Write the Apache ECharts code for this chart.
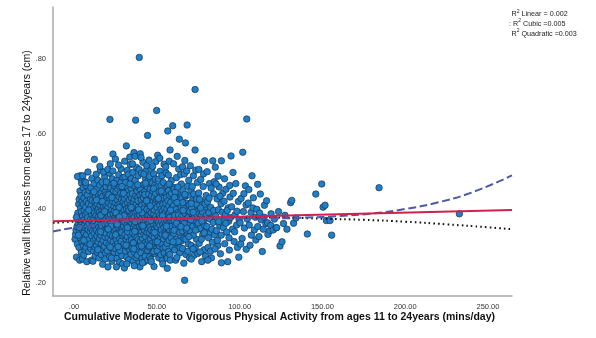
<!DOCTYPE html>
<html>
<head>
<meta charset="utf-8">
<script src="https://cdn.jsdelivr.net/npm/echarts@6/dist/echarts.min.js"></script>
<style>
  html, body { margin: 0; padding: 0; background: #fff; }
  #chart { width: 596px; height: 338px; }
</style>
</head>
<body>
<div id="chart"></div>
<script>
// Cumulative MVPA (mins/day, ages 11-24) vs relative wall thickness (cm, ages 17-24)
const participants = [
  [0.6,0.318],[0.9,0.331],[1.2,0.342],[1.5,0.270],[1.8,0.352],[2.0,0.305],[2.3,0.388],[2.5,0.361],[2.8,0.412],[3.0,0.296],[3.1,0.425],[3.3,0.372],[3.5,0.338],[3.6,0.447],[3.8,0.488],[3.9,0.321],[4.0,0.401],[4.1,0.356],[4.3,0.479],[4.4,0.283],[4.5,0.392],[4.6,0.468],[4.7,0.347],[4.8,0.418],[4.9,0.310],[2.1,0.486],[1.4,0.377],[3.4,0.262],[4.2,0.435],[2.7,0.329],
  [5.1,0.265],[5.2,0.380],[5.3,0.488],[5.4,0.342],[5.5,0.456],[5.6,0.301],[5.7,0.411],[5.8,0.369],[5.9,0.276],[6.0,0.428],[6.1,0.335],[6.2,0.395],[6.3,0.312],[6.4,0.472],[6.5,0.357],[6.6,0.289],[6.7,0.443],[6.8,0.323],[6.9,0.384],[7.0,0.404],[7.1,0.348],[7.2,0.296],[7.3,0.462],[7.4,0.366],[7.5,0.420],[7.6,0.331],[7.7,0.258],[7.8,0.389],[7.9,0.352],[8.0,0.437],[8.2,0.307],[8.3,0.376],[8.4,0.498],[8.6,0.343],[8.7,0.414],[8.8,0.285],[9.0,0.361],[9.1,0.449],[9.3,0.318],[9.5,0.397],[9.7,0.338],[9.9,0.425],
  [10.0,0.372],[10.1,0.293],[10.2,0.456],[10.3,0.347],[10.4,0.408],[10.5,0.262],[10.6,0.385],[10.7,0.327],[10.8,0.481],[10.9,0.363],[11.0,0.422],[11.1,0.305],[11.2,0.394],[11.3,0.340],[11.4,0.259],[11.5,0.443],[11.6,0.357],[11.7,0.314],[11.8,0.401],[11.9,0.286],[12.0,0.376],[12.1,0.467],[12.2,0.334],[12.3,0.532],[12.4,0.389],[12.5,0.298],[12.6,0.418],[12.7,0.352],[12.8,0.273],[12.9,0.431],[13.0,0.366],[13.1,0.320],[13.2,0.407],[13.3,0.381],[13.4,0.492],[13.5,0.343],[13.6,0.301],[13.7,0.452],[13.8,0.370],[13.9,0.327],[14.0,0.413],[14.1,0.283],[14.2,0.396],[14.3,0.359],[14.4,0.476],[14.5,0.311],[14.6,0.438],[14.7,0.378],[14.8,0.336],[14.9,0.400],
  [15.0,0.350],[15.1,0.268],[15.2,0.427],[15.3,0.391],[15.4,0.319],[15.5,0.463],[15.6,0.372],[15.7,0.295],[15.8,0.409],[15.9,0.345],[16.0,0.503],[16.1,0.383],[16.2,0.329],[16.3,0.441],[16.4,0.360],[16.5,0.277],[16.6,0.418],[16.7,0.306],[16.8,0.395],[16.9,0.352],[17.0,0.471],[17.1,0.338],[17.2,0.387],[17.3,0.251],[17.4,0.433],[17.5,0.367],[17.6,0.315],[17.7,0.404],[17.8,0.290],[17.9,0.452],[18.0,0.376],[18.1,0.341],[18.2,0.419],[18.3,0.299],[18.4,0.362],[18.5,0.486],[18.6,0.398],[18.7,0.324],[18.8,0.444],[18.9,0.355],[19.0,0.281],[19.1,0.412],[19.2,0.371],[19.3,0.334],[19.4,0.459],[19.5,0.389],[19.6,0.308],[19.7,0.426],[19.8,0.348],[19.9,0.398],[15.6,0.513],[17.8,0.498],[18.9,0.265],[16.2,0.382],[19.3,0.437],
  [20.0,0.366],[20.1,0.287],[20.2,0.434],[20.3,0.351],[20.4,0.402],[20.5,0.244],[20.6,0.379],[20.7,0.322],[20.8,0.468],[20.9,0.357],[21.0,0.415],[21.1,0.303],[21.2,0.390],[21.3,0.340],[21.4,0.495],[21.5,0.373],[21.6,0.271],[21.7,0.639],[21.8,0.427],[21.9,0.331],[22.0,0.384],[22.1,0.455],[22.2,0.316],[22.3,0.362],[22.4,0.410],[22.5,0.294],[22.6,0.441],[22.7,0.347],[22.8,0.396],[22.9,0.259],[23.0,0.372],[23.1,0.480],[23.2,0.327],[23.3,0.420],[23.4,0.355],[23.5,0.546],[23.6,0.387],[23.7,0.311],[23.8,0.448],[23.9,0.368],[24.0,0.279],[24.1,0.405],[24.2,0.342],[24.3,0.462],[24.4,0.393],[24.5,0.300],[24.6,0.430],[24.7,0.359],[24.8,0.325],[24.9,0.416],[20.4,0.505],[21.9,0.520],[22.7,0.268],[23.4,0.501],[24.3,0.283],[20.9,0.437],[22.4,0.353],[24.8,0.377],
  [25.0,0.533],[25.1,0.370],[25.2,0.292],[25.3,0.445],[25.4,0.344],[25.5,0.401],[25.6,0.318],[25.7,0.386],[25.8,0.476],[25.9,0.356],[26.0,0.267],[26.1,0.423],[26.2,0.335],[26.3,0.392],[26.4,0.306],[26.5,0.452],[26.6,0.364],[26.7,0.411],[26.8,0.282],[26.9,0.379],[27.0,0.491],[27.1,0.348],[27.2,0.432],[27.3,0.321],[27.4,0.397],[27.5,0.256],[27.6,0.365],[27.7,0.458],[27.8,0.337],[27.9,0.414],[28.0,0.381],[28.1,0.297],[28.2,0.441],[28.3,0.353],[28.4,0.507],[28.5,0.394],[28.6,0.313],[28.7,0.425],[28.8,0.370],[28.9,0.274],[29.0,0.408],[29.1,0.343],[29.2,0.466],[29.3,0.387],[29.4,0.328],[29.5,0.437],[29.6,0.359],[29.7,0.299],[29.8,0.419],[29.9,0.374],[25.6,0.244],[26.9,0.517],[27.7,0.288],[28.3,0.470],[29.4,0.252],[26.1,0.358],[27.3,0.403],[28.8,0.336],[29.6,0.483],[25.3,0.389],
  [30.0,0.352],[30.1,0.449],[30.2,0.305],[30.3,0.396],[30.4,0.241],[30.5,0.373],[30.6,0.427],[30.7,0.330],[30.8,0.485],[30.9,0.363],[31.0,0.411],[31.1,0.286],[31.2,0.384],[31.3,0.345],[31.4,0.459],[31.5,0.318],[31.6,0.568],[31.7,0.399],[31.8,0.270],[31.9,0.433],[32.0,0.357],[32.1,0.502],[32.2,0.325],[32.3,0.388],[32.4,0.416],[32.5,0.296],[32.6,0.369],[32.7,0.446],[32.8,0.340],[32.9,0.402],[33.0,0.263],[33.1,0.378],[33.2,0.472],[33.3,0.312],[33.4,0.423],[33.5,0.354],[33.6,0.392],[33.7,0.289],[33.8,0.437],[33.9,0.366],[34.0,0.518],[34.1,0.331],[34.2,0.409],[34.3,0.349],[34.4,0.278],[34.5,0.454],[34.6,0.383],[34.7,0.316],[34.8,0.428],[34.9,0.361],[30.6,0.527],[31.9,0.252],[32.8,0.492],[33.7,0.538],[34.3,0.300],[31.2,0.470],[32.4,0.338],[33.3,0.395],[34.6,0.480],[30.2,0.381],
  [35.0,0.398],[35.1,0.294],[35.2,0.440],[35.3,0.372],[35.4,0.335],[35.5,0.497],[35.6,0.386],[35.7,0.259],[35.8,0.418],[35.9,0.350],[36.0,0.462],[36.1,0.310],[36.2,0.550],[36.3,0.377],[36.4,0.425],[36.5,0.283],[36.6,0.358],[36.7,0.404],[36.8,0.329],[36.9,0.476],[37.0,0.390],[37.1,0.301],[37.2,0.637],[37.3,0.434],[37.4,0.346],[37.5,0.269],[37.6,0.412],[37.7,0.368],[37.8,0.510],[37.9,0.322],[38.0,0.393],[38.1,0.447],[38.2,0.339],[38.3,0.291],[38.4,0.379],[38.5,0.430],[38.6,0.360],[38.7,0.488],[38.8,0.317],[38.9,0.405],[39.0,0.253],[39.1,0.374],[39.2,0.456],[39.3,0.341],[39.4,0.805],[39.5,0.418],[39.6,0.299],[39.7,0.383],[39.8,0.244],[39.9,0.437],[35.3,0.520],[36.4,0.247],[37.0,0.540],[38.2,0.275],[39.3,0.505],[35.8,0.308],[36.9,0.365],[38.6,0.421],[39.7,0.352],[40.0,0.547],
  [40.1,0.366],[40.2,0.313],[40.3,0.451],[40.4,0.397],[40.5,0.282],[40.6,0.423],[40.7,0.355],[40.8,0.495],[40.9,0.338],[41.0,0.409],[41.1,0.266],[41.2,0.376],[41.3,0.441],[41.4,0.320],[41.5,0.387],[41.6,0.524],[41.7,0.349],[41.8,0.296],[41.9,0.428],[42.0,0.368],[42.1,0.465],[42.2,0.331],[42.3,0.401],[42.4,0.257],[42.5,0.379],[42.6,0.445],[42.7,0.342],[42.8,0.308],[42.9,0.414],[43.0,0.363],[43.1,0.481],[43.2,0.325],[43.3,0.392],[43.4,0.277],[43.5,0.433],[43.6,0.356],[43.7,0.502],[43.8,0.303],[43.9,0.384],[44.0,0.420],[44.1,0.336],[44.2,0.459],[44.3,0.371],[44.4,0.596],[44.5,0.288],[44.6,0.406],[44.7,0.347],[44.8,0.474],[44.9,0.315],[40.5,0.537],[41.4,0.255],[42.2,0.492],[43.0,0.272],[43.9,0.515],[44.6,0.262],[41.0,0.389],[42.8,0.438],[44.1,0.398],
  [45.0,0.381],[45.1,0.439],[45.2,0.297],[45.3,0.360],[45.4,0.412],[45.5,0.335],[45.6,0.486],[45.7,0.271],[45.8,0.395],[45.9,0.351],[46.0,0.452],[46.1,0.318],[46.2,0.377],[46.3,0.426],[46.4,0.264],[46.5,0.343],[46.6,0.505],[46.7,0.389],[46.8,0.306],[46.9,0.434],[47.0,0.365],[47.1,0.469],[47.2,0.328],[47.3,0.401],[47.4,0.282],[47.5,0.373],[47.6,0.447],[47.7,0.339],[47.8,0.418],[47.9,0.295],[48.0,0.358],[48.1,0.493],[48.2,0.385],[48.3,0.245],[48.4,0.430],[48.5,0.323],[48.6,0.397],[48.7,0.462],[48.8,0.346],[48.9,0.279],[49.0,0.414],[49.1,0.369],[49.2,0.311],[49.3,0.441],[49.4,0.526],[49.5,0.380],[49.6,0.292],[49.7,0.423],[49.8,0.354],[49.9,0.663],[45.3,0.530],[46.7,0.258],[47.5,0.513],[48.2,0.285],[49.1,0.479],[46.0,0.407],
  [50.0,0.331],[50.1,0.403],[50.2,0.458],[50.3,0.287],[50.4,0.372],[50.5,0.543],[50.6,0.349],[50.7,0.425],[50.8,0.310],[50.9,0.390],[51.0,0.479],[51.1,0.363],[51.2,0.268],[51.3,0.416],[51.4,0.337],[51.5,0.445],[51.6,0.381],[51.7,0.300],[51.8,0.409],[51.9,0.356],[52.0,0.500],[52.1,0.321],[52.2,0.434],[52.3,0.375],[52.4,0.276],[52.5,0.398],[52.6,0.462],[52.7,0.343],[52.8,0.305],[52.9,0.420],[53.0,0.366],[53.1,0.488],[53.2,0.330],[53.3,0.393],[53.4,0.261],[53.5,0.437],[53.6,0.357],[53.7,0.411],[53.8,0.294],[53.9,0.470],[54.0,0.384],[54.1,0.319],[54.2,0.428],[54.3,0.350],[54.4,0.519],[54.5,0.281],[54.6,0.401],[54.7,0.367],[54.8,0.451],[54.9,0.334],[51.8,0.535],[53.6,0.252],
  [55.0,0.389],[55.1,0.297],[55.2,0.443],[55.3,0.358],[55.4,0.414],[55.5,0.325],[55.6,0.496],[55.7,0.372],[55.8,0.270],[55.9,0.430],[56.0,0.345],[56.1,0.399],[56.2,0.307],[56.3,0.267],[56.4,0.461],[56.5,0.378],[56.6,0.608],[56.7,0.421],[56.8,0.336],[56.9,0.383],[57.0,0.285],[57.1,0.448],[57.2,0.362],[57.3,0.407],[57.4,0.315],[57.5,0.527],[57.6,0.391],[57.7,0.344],[57.8,0.436],[57.9,0.277],[58.0,0.557],[58.2,0.370],[58.4,0.417],[58.6,0.322],[58.8,0.475],[59.0,0.353],[59.2,0.402],[59.4,0.298],[59.6,0.622],[59.8,0.386],[55.4,0.512],[56.3,0.240],[57.0,0.490],[58.1,0.262],[58.9,0.440],[59.5,0.338],[59.9,0.457],[57.7,0.376],
  [60.0,0.408],[60.2,0.334],[60.4,0.452],[60.6,0.366],[60.8,0.289],[61.0,0.422],[61.2,0.355],[61.4,0.262],[61.6,0.398],[61.8,0.483],[62.0,0.318],[62.2,0.377],[62.4,0.440],[62.6,0.302],[62.8,0.389],[63.0,0.347],[63.2,0.506],[63.4,0.416],[63.6,0.586],[63.8,0.281],[64.0,0.372],[64.2,0.431],[64.4,0.327],[64.6,0.395],[64.8,0.466],[60.1,0.520],[60.9,0.382],[61.5,0.309],[62.3,0.540],[62.9,0.425],[63.5,0.359],[64.1,0.296],[64.7,0.404],[61.1,0.444],[62.1,0.269],[63.1,0.383],[64.3,0.491],[60.5,0.342],[61.9,0.361],[63.9,0.337],[62.7,0.458],[64.9,0.314],
  [65.0,0.379],[65.2,0.427],[65.4,0.340],[65.6,0.293],[65.8,0.448],[66.0,0.365],[66.2,0.402],[66.4,0.320],[66.6,0.493],[66.8,0.208],[67.0,0.387],[67.2,0.351],[67.3,0.576],[67.4,0.434],[67.6,0.277],[67.8,0.371],[68.0,0.415],[68.3,0.624],[68.4,0.332],[68.6,0.460],[68.8,0.394],[69.0,0.306],[69.2,0.356],[69.4,0.437],[69.6,0.381],[69.8,0.268],[65.5,0.512],[66.3,0.254],[66.9,0.529],[67.5,0.318],[68.1,0.501],[68.7,0.286],[69.3,0.476],[65.9,0.395],[67.9,0.343],[69.7,0.410],[66.5,0.360],[68.5,0.375],
  [70.0,0.393],[70.3,0.338],[70.6,0.449],[70.9,0.301],[71.2,0.372],[71.5,0.421],[71.8,0.353],[72.1,0.488],[72.4,0.275],[72.7,0.406],[73.1,0.719],[73.1,0.557],[73.3,0.366],[73.6,0.432],[73.9,0.318],[74.2,0.385],[74.5,0.470],[74.8,0.345],[70.2,0.515],[70.8,0.265],[71.4,0.459],[72.0,0.329],[72.6,0.378],[73.2,0.296],[73.8,0.412],[74.4,0.356],[71.1,0.401],[72.3,0.439],[73.5,0.503],[74.7,0.280],[70.5,0.370],[71.9,0.292],[74.0,0.426],
  [75.0,0.361],[75.3,0.442],[75.6,0.307],[75.9,0.398],[76.2,0.347],[76.5,0.478],[76.8,0.380],[77.1,0.258],[77.4,0.419],[77.7,0.330],[78.0,0.459],[78.3,0.371],[78.6,0.290],[78.9,0.528],[79.2,0.404],[79.5,0.341],[79.8,0.435],[75.4,0.505],[76.1,0.284],[76.9,0.318],[77.6,0.391],[78.2,0.493],[78.8,0.356],[79.4,0.273],[79.9,0.383],[75.8,0.425],[77.2,0.367],[79.0,0.412],
  [80.2,0.352],[80.6,0.418],[81.0,0.296],[81.4,0.389],[81.8,0.467],[82.2,0.334],[82.6,0.403],[83.0,0.268],[83.4,0.376],[83.8,0.528],[84.2,0.440],[84.7,0.472],[80.4,0.499],[81.2,0.322],[82.0,0.372],[82.8,0.455],[83.6,0.310],[84.4,0.395],[80.8,0.262],[81.6,0.428],[82.4,0.286],[83.2,0.345],[84.0,0.363],[84.9,0.330],
  [85.3,0.511],[85.6,0.380],[86.0,0.341],[86.4,0.426],[86.8,0.301],[87.2,0.397],[87.6,0.458],[88.0,0.355],[88.4,0.279],[88.8,0.413],[89.0,0.528],[89.0,0.255],[89.4,0.370],[89.8,0.441],[85.8,0.466],[86.6,0.315],[87.4,0.365],[88.2,0.433],[88.9,0.329],[85.2,0.292],[87.0,0.487],[89.6,0.390],
  [90.2,0.349],[90.6,0.420],[91.0,0.306],[91.4,0.384],[91.8,0.452],[92.2,0.337],[92.8,0.258],[93.0,0.402],[93.4,0.366],[93.8,0.289],[94.2,0.431],[94.8,0.541],[90.9,0.480],[91.7,0.361],[92.6,0.395],[93.6,0.322],[94.5,0.376],[94.0,0.462],
  [95.2,0.405],[95.7,0.345],[96.2,0.441],[96.7,0.312],[97.2,0.383],[97.7,0.467],[98.2,0.356],[98.7,0.296],[99.2,0.419],[99.7,0.371],[96.0,0.497],[97.0,0.338],[98.4,0.393],[99.5,0.270],
  [100.3,0.362],[100.9,0.427],[101.5,0.320],[101.9,0.551],[102.3,0.392],[102.9,0.348],[103.5,0.461],[103.9,0.410],[104.0,0.291],[104.3,0.640],[100.7,0.305],[102.6,0.440],[104.6,0.372],
  [105.2,0.415],[105.8,0.356],[106.3,0.302],[106.9,0.390],[107.5,0.488],[108.3,0.429],[108.9,0.343],[109.5,0.377],[105.6,0.451],[107.1,0.329],[108.0,0.402],[109.8,0.316],
  [110.4,0.398],[111.0,0.352],[111.7,0.325],[112.5,0.439],[113.0,0.370],[113.7,0.285],[114.3,0.345],[115.0,0.409],[115.8,0.360],[116.3,0.421],[117.1,0.331],[118.3,0.341],[119.0,0.386],[110.9,0.465],[112.1,0.388],[114.8,0.377],[116.9,0.362],[118.8,0.355],
  [120.3,0.343],[121.0,0.372],[122.0,0.349],[122.4,0.349],[123.5,0.392],[124.4,0.300],[125.6,0.311],[126.5,0.360],[127.4,0.382],[128.6,0.345],[130.8,0.416],[131.5,0.422],[132.6,0.361],[134.0,0.375],
  [140.9,0.332],[146.0,0.439],[149.6,0.466],[150.4,0.404],[151.6,0.409],[152.4,0.368],[154.6,0.368],[155.6,0.329],[184.2,0.456],[232.7,0.386],
  // extra density through the main body of the cloud
  [3.2,0.350],[6.0,0.315],[8.9,0.396],[11.3,0.368],[13.6,0.423],[16.0,0.338],[18.5,0.392],[20.6,0.345],[22.9,0.430],[25.1,0.330],[27.4,0.378],[29.9,0.441],[32.2,0.349],[34.5,0.403],[36.7,0.339],[39.0,0.397],[41.6,0.354],[43.8,0.421],[46.3,0.368],[48.7,0.336],[51.0,0.427],[53.4,0.381],[55.8,0.353],[58.3,0.396],[60.7,0.430],[63.0,0.312],[65.6,0.416],[68.0,0.348],[70.8,0.414],[73.4,0.342],
  [7.1,0.470],[9.6,0.305],[12.0,0.445],[14.4,0.290],[17.0,0.419],[19.5,0.472],[21.8,0.297],[24.1,0.468],[26.6,0.298],[28.9,0.459],[31.4,0.302],[33.8,0.466],[36.1,0.292],[38.5,0.464],[40.8,0.300],[43.2,0.468],[45.6,0.300],[48.0,0.454],[50.3,0.311],[52.7,0.447],[55.1,0.329],[57.4,0.466],[59.8,0.311],[62.2,0.416],[64.5,0.352],[66.9,0.438],[69.4,0.325],[72.0,0.390],[76.4,0.402],[78.6,0.335]
];

// Fit lines
const linearFit = [[-12.7,0.366],[264.5,0.396]];
const cubicFit = [
  [-12.7,0.339],[0,0.349],[10,0.355],[25,0.364],[40,0.369],[60,0.372],[80,0.374],[100,0.374],
  [120,0.374],[140,0.376],[160,0.380],[180,0.387],[200,0.399],[220,0.417],[240,0.443],[264.5,0.489]
];
const quadraticFit = [
  [-12.7,0.362],[0,0.365],[25,0.370],[50,0.374],[75,0.376],[100,0.376],[125,0.376],
  [150,0.373],[175,0.370],[200,0.365],[225,0.358],[250,0.350],[264.5,0.345]
];

const xTicks = [0, 50, 100, 150, 200, 250];
const yTicks = [0.2, 0.4, 0.6, 0.8];

const r2Labels = [
  { prefix: '', name: ' Linear = 0.002' },
  { prefix: ': ', name: ' Cubic =0.005' },
  { prefix: '', name: ' Quadratic =0.003' }
];

const xTitle = 'Cumulative Moderate to Vigorous Physical Activity from ages 11 to 24years (mins/day)';
const yTitle = 'Relative wall thickness from ages 17 to 24years (cm)';

// ".20" style labels: drop the leading zero
function spssFormat(v) {
  const s = v.toFixed(2);
  return s.startsWith('0') ? s.slice(1) : s;
}

const chart = echarts.init(document.getElementById('chart'), null, { renderer: 'canvas' });

const FONT = 'Liberation Sans, Arial, sans-serif';

chart.setOption({
  animation: false,
  backgroundColor: '#ffffff',
  grid: { left: 53, right: 84, top: 7, bottom: 42 },
  xAxis: {
    type: 'value',
    min: -12.7,
    max: 264.5,
    axisLine: { show: true, onZero: false, lineStyle: { color: '#a8a8a8', width: 1.5 } },
    axisTick: { show: false },
    splitLine: { show: false },
    axisLabel: {
      customValues: xTicks,
      formatter: spssFormat,
      color: '#333',
      fontSize: 7.5,
      fontFamily: FONT,
      margin: 7
    }
  },
  yAxis: {
    type: 'value',
    min: 0.166,
    max: 0.940,
    axisLine: { show: true, onZero: false, lineStyle: { color: '#a8a8a8', width: 1.5 } },
    axisTick: { show: false },
    splitLine: { show: false },
    axisLabel: {
      customValues: yTicks,
      formatter: spssFormat,
      color: '#333',
      fontSize: 7.5,
      fontFamily: FONT,
      margin: 7
    }
  },
  series: [
    {
      type: 'scatter',
      data: participants,
      symbol: 'circle',
      symbolSize: 6.5,
      itemStyle: { color: '#1f80c8', borderColor: '#183250', borderWidth: 0.7, opacity: 1 },
      z: 2
    },
    {
      type: 'line',
      data: quadraticFit,
      smooth: true,
      showSymbol: false,
      lineStyle: { color: '#111', width: 2, type: [1.6, 3.1] },
      z: 3
    },
    {
      type: 'line',
      data: cubicFit,
      smooth: true,
      showSymbol: false,
      lineStyle: { color: '#4b5aa6', width: 2, type: [8, 3.5] },
      z: 4
    },
    {
      type: 'line',
      data: linearFit,
      showSymbol: false,
      lineStyle: { color: '#d0204c', width: 2 },
      z: 5
    }
  ],
  graphic: [
    {
      type: 'text',
      left: 64,
      top: 312,
      style: { text: xTitle, fontSize: 10.5, fontWeight: 'bold', fill: '#111', fontFamily: FONT }
    },
    {
      type: 'text',
      x: 27,
      y: 173,
      rotation: Math.PI / 2,
      style: { text: yTitle, fontSize: 10.5, fill: '#111', fontFamily: FONT, align: 'center', verticalAlign: 'middle' }
    }
  ].concat(r2Labels.map((r, i) => ({
    type: 'text',
    x: r.prefix ? 509 : 511.5,
    y: 9 + i * 9.6,
    style: {
      text: (r.prefix ? '{n|' + r.prefix + '}' : '') + '{n|R}{s|2}{n|' + r.name + '}',
      fontFamily: FONT,
      rich: {
        n: { fontSize: 7.2, fill: '#222', verticalAlign: 'bottom', lineHeight: 9 },
        s: { fontSize: 5, fill: '#222', verticalAlign: 'top', lineHeight: 9 }
      }
    }
  })))
});
</script>
</body>
</html>
